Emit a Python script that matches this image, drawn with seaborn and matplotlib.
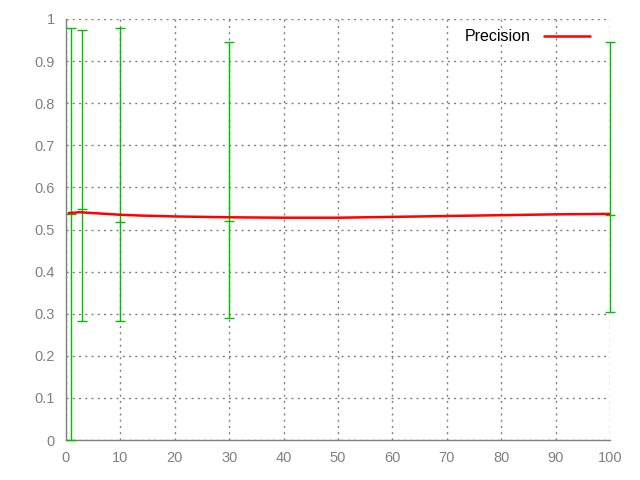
import matplotlib
matplotlib.use('Agg')
import matplotlib.pyplot as plt
import seaborn as sns
import pandas as pd

# precision curve
curve_x = [0.5, 2.5, 5, 7.5, 10, 14, 20, 30, 40, 50, 60, 70, 80, 90, 100]
curve_y = [0.539, 0.541, 0.539, 0.537, 0.535, 0.533, 0.531, 0.529, 0.528,
           0.528, 0.530, 0.532, 0.534, 0.536, 0.537]

# error bars
err_x = [1, 3, 10, 30, 100]
err_y = [0.537, 0.548, 0.517, 0.520, 0.534]
err_low = [0.0, 0.282, 0.282, 0.289, 0.303]
err_high = [0.978, 0.975, 0.978, 0.945, 0.945]

sns.set_style('white')
plt.rcParams['font.family'] = ['Liberation Sans', 'DejaVu Sans']

fig = plt.figure(figsize=(6.4, 4.8), dpi=100)
ax = fig.add_axes([66 / 640, 40 / 480, 544 / 640, 421 / 480])

ax.errorbar(err_x, err_y,
            yerr=[[y - l for y, l in zip(err_y, err_low)],
                  [h - y for y, h in zip(err_y, err_high)]],
            fmt='_', color='#00c000', ecolor='#00c000', elinewidth=1,
            capsize=3.5, capthick=1, markersize=7, markeredgewidth=1,
            zorder=3, clip_on=False)

df = pd.DataFrame({'x': curve_x, 'Precision': curve_y})
sns.lineplot(data=df, x='x', y='Precision', color='#ff0000', linewidth=1.8,
             ax=ax, label='Precision', zorder=4)

ax.set_xlim(0, 100)
ax.set_ylim(0, 1)
ax.set_xticks(range(0, 101, 10))
ax.set_yticks([i / 10 for i in range(11)])
ax.set_yticklabels(['0'] + ['%.1f' % (i / 10) for i in range(1, 10)] + ['1'])
ax.set_xlabel('')
ax.set_ylabel('')
ax.grid(True, color='#808080', linestyle=(0, (1.5, 3)), linewidth=1)
for s in ['top', 'right']:
    ax.spines[s].set_visible(False)
for s in ['left', 'bottom']:
    ax.spines[s].set_color('#808080')
    ax.spines[s].set_linewidth(1)
ax.tick_params(colors='#808080', labelsize=10.5, length=0, pad=8)
ax.tick_params(axis='x', pad=8)

leg = ax.legend(loc='upper right', bbox_to_anchor=(0.99, 1.01), frameon=False,
                markerfirst=False, handlelength=2.9, fontsize=11.5)
for t in leg.get_texts():
    t.set_color('black')

plt.savefig('out.png', dpi=100)
